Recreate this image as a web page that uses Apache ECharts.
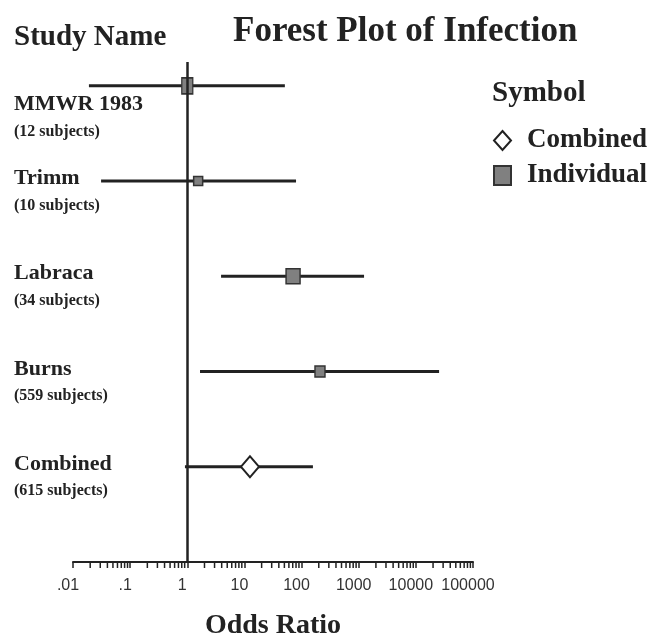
<!DOCTYPE html>
<html>
<head>
<meta charset="utf-8">
<title>Forest Plot of Infection</title>
<script src="https://cdn.jsdelivr.net/npm/echarts@6/dist/echarts.min.js"></script>
<style>
html, body { margin: 0; padding: 0; background: #fff; }
#forest-plot { width: 667px; height: 640px; }
</style>
</head>
<body>
<div id="forest-plot"></div>
<script>
// studies, top to bottom
const studies = ['MMWR 1983', 'Trimm', 'Labraca', 'Burns', 'Combined'];
const subjects = [12, 10, 34, 559, 615];
// odds ratio and its confidence interval
const oddsRatio = [1.0, 1.55, 71, 210, 12.5];
const ciLow = [0.019, 0.031, 3.9, 1.67, 0.91];
const ciHigh = [51, 80, 1240, 25500, 158];
// x axis
const tickLabels = ['.01', '.1', '1', '10', '100', '1000', '10000', '100000'];
const decades = [-2, -1, 0, 1, 2, 3, 4];
const minorSteps = [2, 3, 4, 5, 6, 7, 8, 9];

// marker sizes (w, h) of the individual studies
const squareSizes = [[11, 16], [9, 9], [14, 15], [10, 11]];

const serif = '"Liberation Serif", "Times New Roman", serif';
const ink = '#222';

// row position on the y axis, first study on top
function rowY (i) {
    return studies.length - i;
}

const combinedIdx = studies.length - 1;

let chart = echarts.init(document.getElementById('forest-plot'));

chart.setOption({
    animation: false,
    backgroundColor: '#fff',
    title: [
        {
            text: 'Forest Plot of Infection',
            left: 233,
            top: 14,
            padding: 0,
            textStyle: { fontFamily: serif, fontWeight: 'bold', fontSize: 35, color: ink }
        },
        {
            text: 'Study Name',
            left: 14,
            top: 23,
            padding: 0,
            textStyle: { fontFamily: serif, fontWeight: 'bold', fontSize: 29, color: ink }
        },
        {
            text: 'Symbol',
            left: 492,
            top: 79,
            padding: 0,
            textStyle: { fontFamily: serif, fontWeight: 'bold', fontSize: 29, color: ink }
        }
    ],
    legend: {
        orient: 'vertical',
        left: 493,
        top: 127,
        padding: 0,
        itemWidth: 17,
        itemHeight: 19,
        itemGap: 8,
        selectedMode: false,
        data: [
            { name: 'Combined', icon: 'diamond' },
            { name: 'Individual', icon: 'rect' }
        ],
        textStyle: {
            fontFamily: serif,
            fontWeight: 'bold',
            fontSize: 27,
            color: ink,
            padding: [0, 0, 0, 11]
        }
    },
    grid: {
        left: 73,
        right: 194,
        top: 62,
        bottom: 78,
        outerBoundsMode: 'none'
    },
    xAxis: {
        type: 'log',
        logBase: 10,
        min: 0.01,
        max: 100000,
        splitNumber: 7,
        name: 'Odds Ratio',
        nameLocation: 'middle',
        nameGap: 50,
        nameTextStyle: { fontFamily: serif, fontWeight: 'bold', fontSize: 28, color: ink },
        axisLine: { lineStyle: { color: ink, width: 2 } },
        axisTick: { length: 6, lineStyle: { color: ink, width: 1.5 } },
        splitLine: { show: false },
        axisLabel: {
            interval: 0,
            margin: 16,
            padding: [0, 10, 0, 0],
            fontFamily: '"Liberation Sans", Arial, sans-serif',
            fontSize: 16,
            color: '#333',
            formatter: function (value) {
                return tickLabels[Math.round(Math.log10(value)) + 2];
            }
        }
    },
    yAxis: {
        type: 'value',
        min: 0,
        max: 5.25,
        interval: 1,
        axisLine: { show: false },
        axisTick: { show: false },
        splitLine: { show: false },
        axisLabel: {
            align: 'left',
            margin: 59,
            formatter: function (value) {
                const i = studies.length - value;
                if (!Number.isInteger(i) || i < 0 || i >= studies.length) {
                    return '';
                }
                const gap = i === 0 ? 'gapTop' : 'gap';
                return '{' + gap + '| }\n{name|' + studies[i] + '}\n{sub|(' + subjects[i] + ' subjects)}';
            },
            rich: {
                gap: { fontSize: 1, lineHeight: 22 },
                gapTop: { fontSize: 1, lineHeight: 65 },
                name: { fontFamily: serif, fontWeight: 'bold', fontSize: 22, lineHeight: 27, color: ink },
                sub: { fontFamily: serif, fontWeight: 'bold', fontSize: 16, lineHeight: 27, color: ink }
            }
        }
    },
    series: [
        {
            // confidence interval lines
            name: 'ci',
            type: 'custom',
            z: 2,
            encode: { x: [0, 1], y: 2 },
            data: studies.map(function (s, i) {
                return [ciLow[i], ciHigh[i], rowY(i)];
            }),
            renderItem: function (params, api) {
                const a = api.coord([api.value(0), api.value(2)]);
                const b = api.coord([api.value(1), api.value(2)]);
                return {
                    type: 'line',
                    shape: { x1: a[0], y1: a[1], x2: b[0], y2: b[1] },
                    style: { stroke: ink, lineWidth: 3 }
                };
            },
            markLine: {
                silent: true,
                symbol: ['none', 'none'],
                label: { show: false },
                lineStyle: { color: ink, width: 2.5, type: 'solid' },
                data: [{ xAxis: 1 }]
            }
        },
        {
            // minor ticks of the log axis (2..9 in each decade)
            name: 'minorTicks',
            type: 'custom',
            silent: true,
            z: 1,
            encode: { x: 0, y: 1 },
            data: decades.reduce(function (list, d) {
                return list.concat(minorSteps.map(function (k) {
                    return [k * Math.pow(10, d), 0];
                }));
            }, []),
            renderItem: function (params, api) {
                const p = api.coord([api.value(0), 0]);
                return {
                    type: 'line',
                    shape: { x1: p[0], y1: p[1], x2: p[0], y2: p[1] + 6 },
                    style: { stroke: ink, lineWidth: 1.5 }
                };
            }
        },
        {
            name: 'Individual',
            type: 'scatter',
            symbol: 'rect',
            z: 3,
            itemStyle: { color: '#808080', borderColor: '#333', borderWidth: 1.5, opacity: 1 },
            data: studies.slice(0, combinedIdx).map(function (s, i) {
                return { value: [oddsRatio[i], rowY(i)], symbolSize: squareSizes[i] };
            })
        },
        {
            name: 'Combined',
            type: 'scatter',
            symbol: 'diamond',
            symbolSize: [18, 21],
            z: 3,
            itemStyle: { color: '#fff', borderColor: ink, borderWidth: 2, opacity: 1 },
            data: [[oddsRatio[combinedIdx], rowY(combinedIdx)]]
        }
    ]
});

window.addEventListener('resize', function () {
    chart.resize();
});
</script>
</body>
</html>
